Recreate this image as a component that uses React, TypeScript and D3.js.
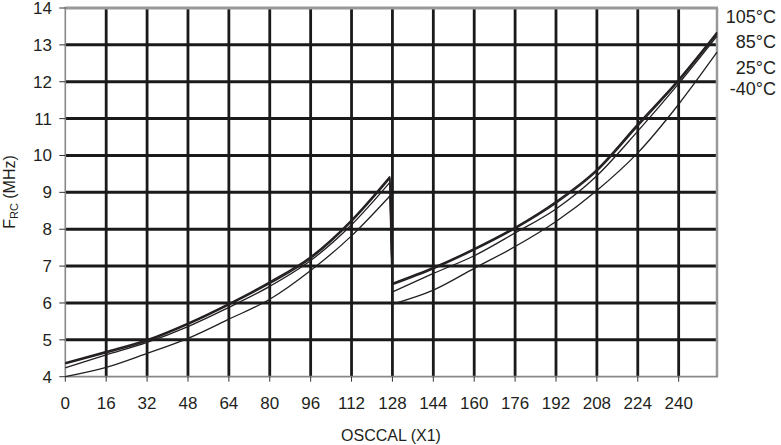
import React from "react";
import * as d3 from "d3";

const xTicks = [0, 16, 32, 48, 64, 80, 96, 112, 128, 144, 160, 176, 192, 208, 224, 240];
const yTicks = [4, 5, 6, 7, 8, 9, 10, 11, 12, 13, 14];

const osccal = [0, 16, 32, 48, 64, 80, 96, 112, 127, 128, 144, 160, 176, 192, 208, 224, 240, 255];
const f105 = [4.38, 4.68, 5.0, 5.45, 5.98, 6.57, 7.25, 8.25, 9.43, 6.53, 6.96, 7.47, 8.05, 8.75, 9.62, 10.85, 12.06, 13.34];
const f85 = [4.35, 4.65, 4.97, 5.42, 5.95, 6.53, 7.21, 8.21, 9.38, 6.5, 6.93, 7.44, 8.02, 8.71, 9.58, 10.8, 12.02, 13.3];
const f25 = [4.24, 4.59, 4.93, 5.36, 5.88, 6.45, 7.15, 8.12, 9.27, 6.3, 6.8, 7.28, 7.9, 8.55, 9.45, 10.66, 11.95, 13.24];
const fm40 = [4.0, 4.25, 4.63, 5.04, 5.56, 6.1, 6.88, 7.82, 8.9, 5.97, 6.35, 6.94, 7.53, 8.21, 9.05, 10.07, 11.39, 12.8];

const seriesLabels = ["105°C", "85°C", "25°C", "-40°C"];
const seriesData = [f105, f85, f25, fm40];

const W = 781;
const H = 445;
const x0 = 65.3;
const x1 = 717;
const yTop = 8;
const yBot = 376.7;

export default function App() {
  const x = d3.scaleLinear().domain([0, 255]).range([x0, x1]);
  const y = d3.scaleLinear().domain([4, 14]).range([yBot, yTop]);
  const line = d3
    .line<[number, number]>()
    .x((d) => x(d[0]))
    .y((d) => y(d[1]))
    .curve(d3.curveMonotoneX);
  const font = "'Liberation Sans', Arial, Helvetica, sans-serif";
  const ink = "#231f20";
  const widths = [1.6, 1.6, 1.3, 1.3];
  const legendY = [23, 48, 74, 95];
  const split = osccal.indexOf(128);

  return (
    <svg width={W} height={H} style={{ position: "absolute", left: 0, top: 0 }} fontFamily={font}>
      <rect x={0} y={0} width={W} height={H} fill="#fff" />
      {/* grid */}
      {yTicks.slice(1, -1).map((t) => (
        <line key={"gy" + t} x1={x0} x2={x1} y1={y(t)} y2={y(t)} stroke="#1a1a1a" strokeWidth={3} />
      ))}
      {xTicks.slice(1).map((t) => (
        <line key={"gx" + t} x1={x(t)} x2={x(t)} y1={yTop} y2={yBot} stroke="#1a1a1a" strokeWidth={2.8} />
      ))}
      {/* borders */}
      <line x1={x0} x2={x1 + 1} y1={yTop} y2={yTop} stroke="#999" strokeWidth={3} />
      <line x1={x1} x2={x1} y1={yTop} y2={yBot} stroke="#999" strokeWidth={2.5} />
      <line x1={x0} x2={x0} y1={yTop - 1} y2={yBot} stroke="#888" strokeWidth={1.6} />
      <line x1={x0} x2={x1 + 1} y1={yBot} y2={yBot} stroke="#888" strokeWidth={1.8} />
      {/* ticks */}
      {yTicks.map((t) => (
        <line key={"ty" + t} x1={x0 - 6} x2={x0} y1={y(t)} y2={y(t)} stroke="#333" strokeWidth={1} />
      ))}
      {xTicks.map((t) => (
        <line key={"tx" + t} x1={x(t)} x2={x(t)} y1={yBot} y2={yBot + 5} stroke="#333" strokeWidth={1} />
      ))}
      {/* curves */}
      {seriesData.map((s, i) => {
        const pts: [number, number][] = s.map((v, j) => [osccal[j], v]);
        const left = pts.slice(0, split);
        const right = pts.slice(split);
        const drop: [number, number][] = [left[left.length - 1], right[0]];
        return (
          <g key={"s" + i} fill="none" stroke={ink} strokeWidth={widths[i]} strokeLinejoin="round">
            <path d={line(left) || ""} />
            <path d={d3.line<[number, number]>().x((d) => x(d[0])).y((d) => y(d[1]))(drop) || ""} strokeWidth={i === 0 ? 1 : widths[i]} />
            <path d={line(right) || ""} />
          </g>
        );
      })}
      {/* tick labels */}
      {yTicks.map((t) => (
        <text key={"ly" + t} x={52} y={y(t) + 6} textAnchor="end" fontSize={17} fill={ink}>
          {t}
        </text>
      ))}
      {xTicks.map((t) => (
        <text key={"lx" + t} x={x(t)} y={409} textAnchor="middle" fontSize={17} fill={ink}>
          {t}
        </text>
      ))}
      {/* legend labels */}
      {seriesLabels.map((l, i) => (
        <text key={"lg" + i} x={776} y={legendY[i]} textAnchor="end" fontSize={18} fill={ink}>
          {l}
        </text>
      ))}
      {/* axis titles */}
      <text x={391} y={441} textAnchor="middle" fontSize={16} fill={ink}>
        OSCCAL (X1)
      </text>
      <text transform="translate(15,192) rotate(-90)" textAnchor="middle" fontSize={16} fill={ink}>
        F<tspan fontSize={11} dy={3}>RC</tspan>
        <tspan dy={-3}> (MHz)</tspan>
      </text>
    </svg>
  );
}
